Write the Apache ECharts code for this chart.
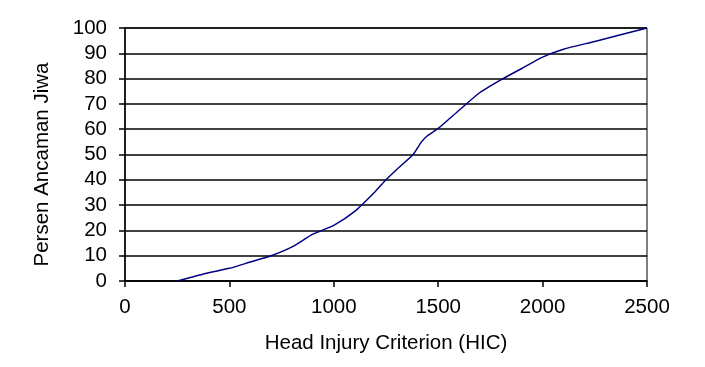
<!DOCTYPE html>
<html>
<head>
<meta charset="utf-8">
<script src="https://cdn.jsdelivr.net/npm/echarts@6/dist/echarts.min.js"></script>
<style>
    html, body { margin: 0; padding: 0; background: #fff; }
    #chart { width: 705px; height: 367px; }
</style>
</head>
<body>
<div id="chart"></div>
<script>
// HIC nilai dan persen ancaman jiwa
var hic = [250, 400, 500, 600, 700, 800, 900, 1000, 1100, 1200, 1250, 1300, 1380, 1420, 1450, 1500, 1600, 1700, 1800, 1900, 2000, 2100, 2250, 2500];
var persen = [0, 3.3, 5, 7.5, 10, 13.5, 18.5, 22, 27.5, 35.5, 40, 44, 50, 55, 57.5, 60.3, 67.5, 74.5, 79.5, 84, 88.5, 91.6, 94.7, 100];

var fontFamily = 'Liberation Sans, Arial, sans-serif';
var fontSize = 20.5;

var chart = echarts.init(document.getElementById('chart'));

var points = hic.map(function(x, i) {
    return [x, persen[i]];
});

var option = {
    animation: false,
    backgroundColor: '#fff',
    grid: {
        left: 125,
        right: 58,
        top: 28,
        bottom: 86,
        show: true,
        borderColor: '#000',
        borderWidth: 1
    },
    xAxis: {
        type: 'value',
        min: 0,
        max: 2500,
        interval: 500,
        name: 'Head Injury Criterion (HIC)',
        nameLocation: 'middle',
        nameGap: 52,
        nameTextStyle: { color: '#000', fontSize: fontSize, fontFamily: fontFamily },
        axisLine: { show: true, lineStyle: { color: '#000', width: 1.5 } },
        axisTick: { show: true, inside: false, length: 6, lineStyle: { color: '#000', width: 1.5 } },
        axisLabel: {
            color: '#000', fontSize: fontSize, fontFamily: fontFamily, margin: 16,
            formatter: function(v) { return String(v); }
        },
        splitLine: { show: false }
    },
    yAxis: {
        type: 'value',
        min: 0,
        max: 100,
        interval: 10,
        name: 'Persen Ancaman Jiwa',
        nameLocation: 'middle',
        nameGap: 72,
        nameTextStyle: { color: '#000', fontSize: fontSize, fontFamily: fontFamily, padding: [0, 20, 0, 0] },
        axisLine: { show: true, lineStyle: { color: '#000', width: 1.5 } },
        axisTick: { show: true, inside: false, length: 6, lineStyle: { color: '#000', width: 1.5 } },
        axisLabel: {
            color: '#000', fontSize: fontSize, fontFamily: fontFamily, margin: 18,
            formatter: function(v) { return String(v); }
        },
        splitLine: { show: true, lineStyle: { color: '#000', width: 1.5 } }
    },
    series: [{
        type: 'line',
        data: points,
        smooth: 0.2,
        symbol: 'none',
        lineStyle: { color: '#000080', width: 1.5 }
    }]
};

chart.setOption(option);
</script>
</body>
</html>
